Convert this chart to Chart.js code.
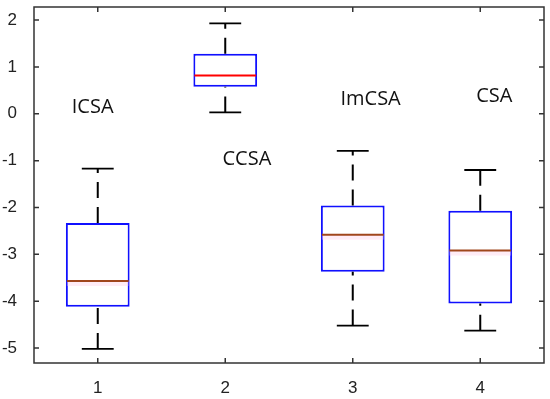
<!DOCTYPE html>
<html>
<head>
<meta charset="utf-8">
<script src="https://cdn.jsdelivr.net/npm/chart.js@4.4.1/dist/chart.umd.min.js"></script>
<style>
  html, body { margin: 0; padding: 0; background: #fff; }
  #wrap { width: 550px; height: 399px; }
</style>
</head>
<body>
<div id="wrap"><canvas id="boxChart"></canvas></div>
<script>
// box plot values
const groups = ['1', '2', '3', '4'];
const whiskerLow = [-5.02, 0.03, -4.52, -4.63];
const q1 = [-4.12, 0.58, -3.37, -4.05];
const median = [-3.57, 0.82, -2.58, -2.92];
const q3 = [-2.33, 1.28, -1.96, -2.07];
const whiskerHigh = [-1.17, 1.93, -0.79, -1.2];
const medianColors = ['#a0461c', '#ff0000', '#a0461c', '#a0461c'];
const yTicks = [-5, -4, -3, -2, -1, 0, 1, 2];

// text annotations inside the plot (x in group units, y in data units)
const annoText = ['ICSA', 'CCSA', 'ImCSA', 'CSA'];
const annoX = [0.96, 2.17, 3.14, 4.11];
const annoY = [0.13, -0.98, 0.32, 0.38];

const boxPlotExtras = {
    id: 'boxPlotExtras',
    afterDatasetsDraw(chart) {
        const ctx = chart.ctx;
        const xs = chart.scales.x;
        const ys = chart.scales.y;
        const area = chart.chartArea;
        const unit = xs.getPixelForValue(1) - xs.getPixelForValue(0);
        const capHalf = unit * 0.125;
        const boxHalf = unit * 0.25;

        ctx.save();
        groups.forEach((g, i) => {
            const cx = xs.getPixelForValue(i);

            // whiskers (dashed), drawn from the lower end upwards
            ctx.strokeStyle = '#000';
            ctx.lineWidth = 2;
            ctx.setLineDash([16, 9]);
            ctx.beginPath();
            ctx.moveTo(cx, ys.getPixelForValue(q3[i]));
            ctx.lineTo(cx, ys.getPixelForValue(whiskerHigh[i]));
            ctx.stroke();
            ctx.beginPath();
            ctx.moveTo(cx, ys.getPixelForValue(whiskerLow[i]));
            ctx.lineTo(cx, ys.getPixelForValue(q1[i]));
            ctx.stroke();

            // caps
            ctx.setLineDash([]);
            ctx.lineWidth = 1.8;
            ctx.beginPath();
            ctx.moveTo(cx - capHalf, ys.getPixelForValue(whiskerHigh[i]));
            ctx.lineTo(cx + capHalf, ys.getPixelForValue(whiskerHigh[i]));
            ctx.moveTo(cx - capHalf, ys.getPixelForValue(whiskerLow[i]));
            ctx.lineTo(cx + capHalf, ys.getPixelForValue(whiskerLow[i]));
            ctx.stroke();

            // median
            const my = ys.getPixelForValue(median[i]);
            if (i !== 1) {
                ctx.fillStyle = 'rgba(255, 200, 230, 0.35)';
                ctx.fillRect(cx - boxHalf + 1, my, boxHalf * 2 - 2, 5);
            }
            ctx.strokeStyle = medianColors[i];
            ctx.lineWidth = 2;
            ctx.beginPath();
            ctx.moveTo(cx - boxHalf + 1, my);
            ctx.lineTo(cx + boxHalf - 1, my);
            ctx.stroke();
        });

        // annotations
        ctx.fillStyle = '#111';
        ctx.font = '20px "Open Sans", sans-serif';
        ctx.textAlign = 'center';
        ctx.textBaseline = 'middle';
        annoText.forEach((t, i) => {
            ctx.fillText(t, xs.getPixelForValue(annoX[i] - 1), ys.getPixelForValue(annoY[i]));
        });

        // frame
        ctx.strokeStyle = '#333';
        ctx.lineWidth = 1.5;
        ctx.strokeRect(area.left, area.top, area.right - area.left, area.bottom - area.top);

        // inward tick marks on all four sides
        ctx.beginPath();
        groups.forEach((g, i) => {
            const px = xs.getPixelForValue(i);
            ctx.moveTo(px, area.bottom);
            ctx.lineTo(px, area.bottom - 5);
            ctx.moveTo(px, area.top);
            ctx.lineTo(px, area.top + 5);
        });
        yTicks.forEach(v => {
            const py = ys.getPixelForValue(v);
            ctx.moveTo(area.left, py);
            ctx.lineTo(area.left + 5, py);
            ctx.moveTo(area.right, py);
            ctx.lineTo(area.right - 5, py);
        });
        ctx.stroke();
        ctx.restore();
    }
};

const ctx = document.getElementById('boxChart').getContext('2d');
new Chart(ctx, {
    type: 'bar',
    data: {
        labels: groups,
        datasets: [{
            label: 'box',
            data: groups.map((g, i) => [q1[i], q3[i]]),
            backgroundColor: '#ffffff',
            borderColor: '#1010ff',
            borderWidth: 2,
            borderSkipped: false,
            barPercentage: 0.5,
            categoryPercentage: 1
        }]
    },
    options: {
        responsive: true,
        maintainAspectRatio: false,
        animation: false,
        layout: { padding: { top: 7, right: 6, left: 0, bottom: 0 } },
        plugins: {
            legend: { display: false },
            tooltip: { enabled: false }
        },
        scales: {
            x: {
                offset: true,
                grid: { display: false },
                border: { display: false },
                ticks: { color: '#222', font: { family: 'Liberation Sans', size: 17 }, padding: 7 },
                afterFit: function(scale) {
                    scale.height = 36;
                    scale.paddingLeft = 0;
                    scale.paddingRight = 0;
                }
            },
            y: {
                min: -5.32,
                max: 2.28,
                grid: { display: false },
                border: { display: false },
                ticks: { color: '#222', font: { family: 'Liberation Sans', size: 17 }, padding: 9 },
                afterBuildTicks: function(scale) {
                    scale.ticks = yTicks.map(v => ({ value: v }));
                },
                afterFit: function(scale) {
                    scale.width = 34;
                    scale.paddingTop = 0;
                    scale.paddingBottom = 0;
                }
            }
        }
    },
    plugins: [boxPlotExtras]
});
</script>
</body>
</html>
